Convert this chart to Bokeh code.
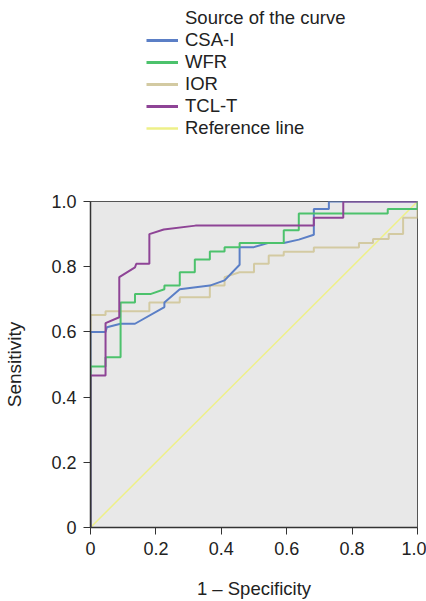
from bokeh.plotting import figure
from bokeh.models import Legend, LegendItem, FixedTicker
from bokeh.layouts import column
from bokeh.embed import file_html
from bokeh.resources import INLINE

# ---- data ----
csa_x = [0, 0, 0.046, 0.05, 0.092, 0.136, 0.226, 0.226, 0.273, 0.365, 0.41, 0.456, 0.456,
         0.5, 0.545, 0.591, 0.637, 0.683, 0.683, 0.729, 0.729, 1.0]
csa_y = [0, 0.6, 0.6, 0.614, 0.625, 0.625, 0.676, 0.69, 0.731, 0.742, 0.758, 0.806, 0.86,
         0.86, 0.873, 0.873, 0.883, 0.898, 0.977, 0.977, 1.0, 1.0]

wfr_x = [0, 0, 0.046, 0.046, 0.092, 0.092, 0.136, 0.136, 0.183, 0.226, 0.226, 0.273, 0.273,
         0.319, 0.319, 0.365, 0.365, 0.41, 0.41, 0.456, 0.456, 0.591, 0.591, 0.637, 0.637,
         0.909, 0.909, 1.0, 1.0]
wfr_y = [0, 0.494, 0.494, 0.522, 0.522, 0.69, 0.69, 0.716, 0.716, 0.731, 0.742, 0.742, 0.783,
         0.783, 0.822, 0.822, 0.847, 0.847, 0.86, 0.86, 0.873, 0.873, 0.912, 0.912, 0.963,
         0.963, 0.977, 0.977, 1.0]

ior_x = [0, 0, 0.046, 0.046, 0.18, 0.18, 0.273, 0.273, 0.365, 0.365, 0.41, 0.41, 0.456, 0.5,
         0.5, 0.545, 0.545, 0.591, 0.591, 0.683, 0.683, 0.821, 0.821, 0.864, 0.864, 0.912,
         0.912, 0.956, 0.956, 1.0, 1.0]
ior_y = [0, 0.652, 0.652, 0.663, 0.663, 0.69, 0.69, 0.706, 0.706, 0.742, 0.742, 0.768, 0.783,
         0.783, 0.809, 0.809, 0.834, 0.834, 0.846, 0.846, 0.859, 0.859, 0.873, 0.873, 0.885,
         0.885, 0.9, 0.9, 0.95, 0.95, 1.0]

tcl_x = [0, 0, 0.046, 0.046, 0.088, 0.088, 0.136, 0.14, 0.18, 0.18, 0.224, 0.321, 0.683,
         0.683, 0.773, 0.773, 1.0]
tcl_y = [0, 0.466, 0.466, 0.627, 0.645, 0.768, 0.798, 0.809, 0.809, 0.90, 0.914, 0.926,
         0.926, 0.95, 0.95, 1.0, 1.0]

ref_x = [0, 1]
ref_y = [0, 1]

series_names = ["CSA-I", "WFR", "IOR", "TCL-T", "Reference line"]
legend_title = "Source of the curve"
tick_values = [0, 0.2, 0.4, 0.6, 0.8, 1.0]
tick_labels = ["0", "0.2", "0.4", "0.6", "0.8", "1.0"]

colors = ["#5b7fc6", "#4cc26c", "#d3caa2", "#8e4496", "#eef088"]
widths = [2, 2, 2, 2, 1.5]

FONT = "Liberation Sans"

# ---- main chart ----
p = figure(width=426, height=451, x_range=(0, 1), y_range=(0, 1),
           output_backend="svg", toolbar_location=None,
           min_border_left=90, min_border_right=9, min_border_top=51, min_border_bottom=74)

p.background_fill_color = "#e8e8e8"
p.border_fill_color = "white"
p.outline_line_color = "#555555"
p.outline_line_width = 1
p.grid.visible = False

p.line(ref_x, ref_y, line_color=colors[4], line_width=widths[4])
p.line(ior_x, ior_y, line_color=colors[2], line_width=widths[2])
p.line(csa_x, csa_y, line_color=colors[0], line_width=widths[0])
p.line(wfr_x, wfr_y, line_color=colors[1], line_width=widths[1])
p.line(tcl_x, tcl_y, line_color=colors[3], line_width=widths[3])

for ax in (p.xaxis[0], p.yaxis[0]):
    ax.ticker = FixedTicker(ticks=tick_values)
    ax.major_label_overrides = {v: l for v, l in zip(tick_values, tick_labels)}
    ax.minor_tick_line_color = None
    ax.major_tick_in = 0
    ax.major_tick_out = 7
    ax.major_tick_line_color = "#333333"
    ax.axis_line_color = "#333333"
    ax.axis_line_width = 1.5
    ax.major_label_text_font = FONT
    ax.major_label_text_font_size = "18px"
    ax.major_label_text_color = "#222222"
    ax.major_label_standoff = 7
    ax.axis_label_text_font = FONT
    ax.axis_label_text_font_size = "18.5px"
    ax.axis_label_text_font_style = "normal"
    ax.axis_label_text_color = "#222222"

p.xaxis.axis_label = "1 \u2013 Specificity"
p.yaxis.axis_label = "Sensitivity"
p.yaxis.axis_label_text_font_size = "19px"
p.xaxis.axis_label_standoff = 20
p.yaxis.axis_label_standoff = 23

# ---- legend panel (separate figure on top; its frame aligns with the chart frame) ----
lg = figure(width=426, height=150, x_range=(0, 1), y_range=(0, 1),
            x_axis_type=None, y_axis_type=None,
            output_backend="svg", toolbar_location=None,
            min_border_left=0, min_border_right=0, min_border_top=0, min_border_bottom=0)
lg.outline_line_color = None
lg.background_fill_color = "white"
lg.grid.visible = False

nan = float("nan")
items = [LegendItem(label=legend_title,
                    renderers=[lg.line([nan], [nan], line_alpha=0)])]
for name, c, w in zip(series_names, colors, widths):
    r = lg.line([nan], [nan], line_color=c, line_width=w + 1)
    items.append(LegendItem(label=name, renderers=[r]))

legend = Legend(items=items, location=(56, 11), padding=0, margin=0, spacing=0,
                glyph_width=32, glyph_height=22, label_height=22, label_standoff=7,
                label_text_font=FONT, label_text_font_size="18.5px", label_text_color="#222222",
                border_line_color=None, background_fill_alpha=0)
lg.add_layout(legend, "center")

layout = column(lg, p, spacing=0)
open("out.html", "w").write(file_html(layout, INLINE))
